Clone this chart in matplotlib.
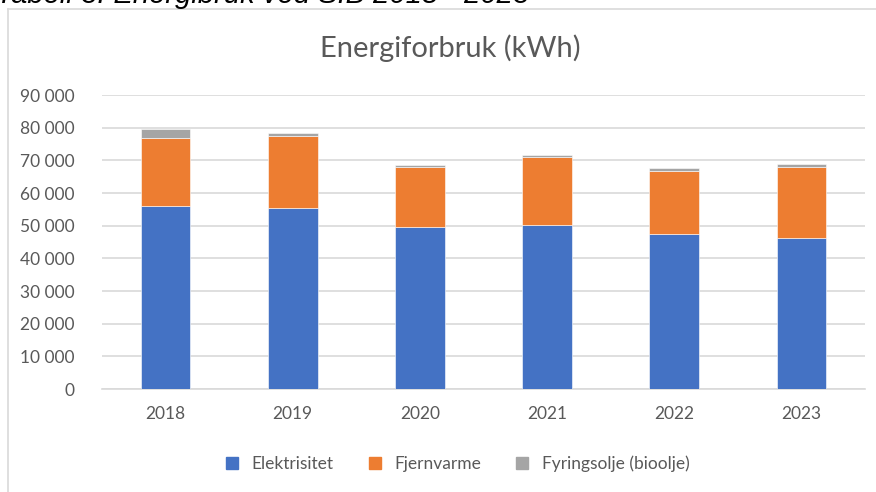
import matplotlib.pyplot as plt
from matplotlib.lines import Line2D
import numpy as np

years = ['2018', '2019', '2020', '2021', '2022', '2023']
elektrisitet = [56000, 55300, 49500, 50100, 47400, 46300]
fjernvarme = [20900, 22000, 18400, 20900, 19400, 21600]
fyringsolje = [2700, 1200, 700, 600, 800, 1000]
series_names = ['Elektrisitet', 'Fjernvarme', 'Fyringsolje (bioolje)']
colors = ['#4472C4', '#ED7D31', '#A5A5A5']
yticks = [0, 10000, 20000, 30000, 40000, 50000, 60000, 70000, 80000, 90000]

plt.rcParams['font.family'] = ['Lato', 'DejaVu Sans']
txt = '#595959'

fig = plt.figure(figsize=(8.76, 4.92), dpi=100)
ax = fig.add_axes([102/876, 1-389/492, 763/876, 294/492])

x = np.arange(len(years))
w = 0.39
bottom = np.zeros(len(years))
for vals, c in zip([elektrisitet, fjernvarme, fyringsolje], colors):
    ax.bar(x, vals, w, bottom=bottom, color=c, edgecolor='white', linewidth=0.4, zorder=3)
    bottom += np.array(vals)

ax.set_xlim(-0.5, len(years)-0.5)
ax.set_ylim(0, 90000)
ax.set_yticks(yticks)
ax.set_yticklabels([f'{v:,}'.replace(',', ' ') for v in yticks])
ax.set_xticks(x)
ax.set_xticklabels(years)
ax.tick_params(length=0, colors=txt, labelsize=12.5)
ax.tick_params(axis='y', pad=20)
ax.tick_params(axis='x', pad=12)
ax.grid(axis='y', color='#D9D9D9', linewidth=1.2, zorder=0)
for s in ['left', 'right', 'top']:
    ax.spines[s].set_visible(False)
ax.spines['bottom'].set_color('#D9D9D9')
ax.spines['bottom'].set_linewidth(1.2)

fig.text(450/876, 1-48/492, 'Energiforbruk (kWh)', ha='center', va='center',
         fontsize=21, color=txt)

handles = [Line2D([], [], marker='s', linestyle='none', markersize=8,
                  markerfacecolor=c, markeredgecolor=c) for c in colors]
fig.legend(handles, series_names, loc='center', ncol=3,
           bbox_to_anchor=(452/876, 1-464/492), frameon=False,
           fontsize=12.5, labelcolor=txt, handletextpad=0.1, columnspacing=1.4)

# chart frame (top and left edges visible)
fig.add_artist(Line2D([8/876, 8/876], [0, 1-9/492], transform=fig.transFigure,
                      color='#D9D9D9', linewidth=1.2))
fig.add_artist(Line2D([8/876, 1], [1-9/492, 1-9/492], transform=fig.transFigure,
                      color='#D9D9D9', linewidth=1.2))

# caption above the chart, cut off at the top edge
fig.text(-0.004, 1-3/492, 'Tabell 3: Energibruk ved SIB 2018 - 2023', ha='left',
         va='baseline', fontsize=21, style='italic', color='black',
         family='Liberation Sans')

fig.savefig('out.png', dpi=100)
